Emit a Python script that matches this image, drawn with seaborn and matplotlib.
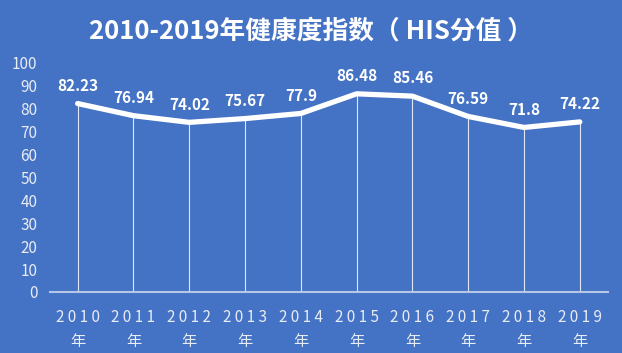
import matplotlib
matplotlib.use('Agg')
import matplotlib.pyplot as plt
import seaborn as sns
import pandas as pd

# --- data
years = ['2010', '2011', '2012', '2013', '2014', '2015', '2016', '2017', '2018', '2019']
his = [82.23, 76.94, 74.02, 75.67, 77.9, 86.48, 85.46, 76.59, 71.8, 74.22]
labels = ['82.23', '76.94', '74.02', '75.67', '77.9', '86.48', '85.46', '76.59', '71.8', '74.22']
yticks = [0, 10, 20, 30, 40, 50, 60, 70, 80, 90, 100]

bg = '#4472C4'
sns.set_style('white')
plt.rcParams['font.family'] = ['Noto Sans CJK SC', 'DejaVu Sans']

df = pd.DataFrame({'pos': range(len(years)), 'his': his})

fig = plt.figure(figsize=(6.22, 3.53), dpi=100, facecolor=bg)
ax = fig.add_axes([0.080, 0.173, 0.897, 0.649])
ax.set_facecolor(bg)

# drop lines from axis to each point
ax.vlines(df['pos'], 0, df['his'], color='white', lw=0.8, alpha=0.85, zorder=1)
sns.lineplot(data=df, x='pos', y='his', color='white', lw=3.8, ax=ax, zorder=3)

for x, v, t in zip(df['pos'], his, labels):
    ax.annotate(t, (x, v), xytext=(0, 7), textcoords='offset points',
                ha='center', va='bottom', color='white', fontsize=11, fontweight='bold')

ax.set_xlim(-0.5, len(years) - 0.5)
ax.set_ylim(0, 100)
ax.set_yticks(yticks)
ax.set_yticklabels([str(t) for t in yticks], color='#E8ECF4', fontsize=11)
ax.set_xticks(list(df['pos']))
ax.set_xticklabels([' '.join(y) + '\n年' for y in years], color='#E8ECF4', fontsize=11, linespacing=1.55)
ax.tick_params(axis='x', length=0, pad=12)
ax.tick_params(axis='y', length=0, pad=9)
ax.set_xlabel('')
ax.set_ylabel('')
for s in ['top', 'right', 'left']:
    ax.spines[s].set_visible(False)
ax.spines['bottom'].set_color('#B4C7E7')
ax.spines['bottom'].set_linewidth(1.5)

fig.text(0.5, 0.912, '2010-2019年健康度指数（ HIS分值 ）', ha='center', va='center',
         color='white', fontsize=18.5, fontweight='bold')

fig.savefig('out.png', dpi=100, facecolor=bg)
